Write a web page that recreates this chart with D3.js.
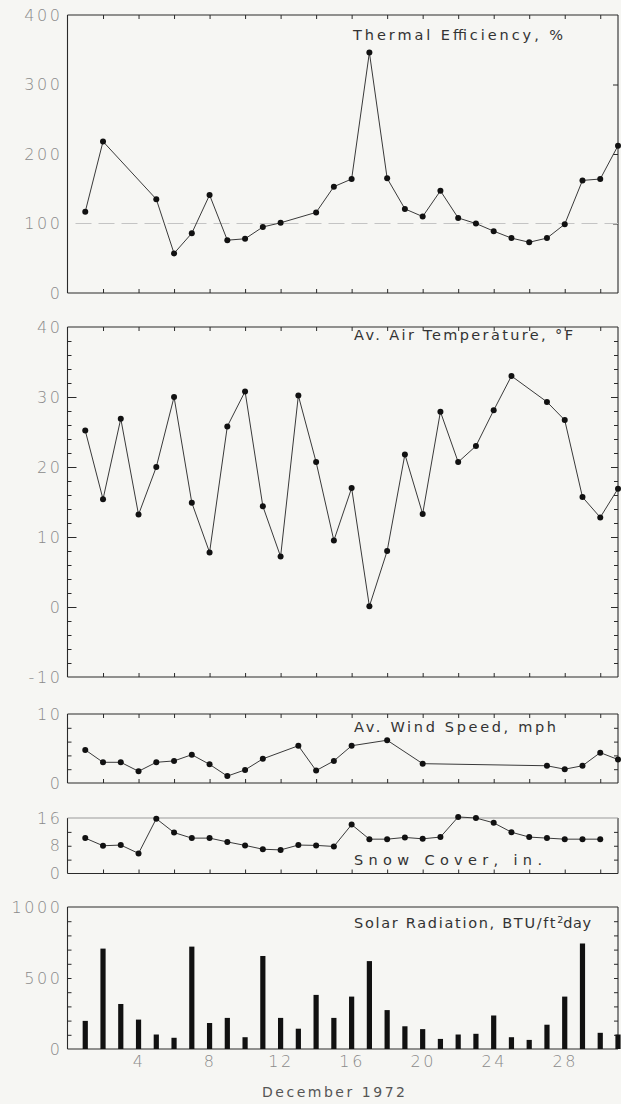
<!DOCTYPE html>
<html>
<head>
<meta charset="utf-8">
<script src="https://cdn.jsdelivr.net/npm/d3@7/dist/d3.min.js"></script>
<style>
html,body{margin:0;padding:0;background:#f6f6f3;}
svg{display:block;}
text{font-family:"DejaVu Sans", sans-serif;}
</style>
</head>
<body>
<svg id="chart" width="621" height="1104"></svg>
<script>
// ---- data ----
const effDays = [1,2,5,6,7,8,9,10,11,12,14,15,16,17,18,19,20,21,22,23,24,25,26,27,28,29,30,31];
const effVals = [117,218,135,57,86,141,76,78,95,101,116,153,164,346,165,121,110,147,108,100,89,79,73,79,99,162,164,212];

const tempDays = [1,2,3,4,5,6,7,8,9,10,11,12,13,14,15,16,17,18,19,20,21,22,23,24,25,27,28,29,30,31];
const tempVals = [25.2,15.4,26.9,13.2,20.0,30.0,14.9,7.8,25.8,30.8,14.4,7.2,30.2,20.7,9.5,17.0,0.1,8.0,21.8,13.3,27.9,20.7,23.0,28.1,33.0,29.3,26.7,15.7,12.8,16.9];

const windDays = [1,2,3,4,5,6,7,8,9,10,11,13,14,15,16,18,20,27,28,29,30,31];
const windVals = [4.8,3.0,3.0,1.7,3.0,3.2,4.1,2.7,1.0,1.9,3.5,5.4,1.8,3.2,5.4,6.2,2.8,2.5,2.0,2.5,4.4,3.4];

const snowDays = [1,2,3,4,5,6,7,8,9,10,11,12,13,14,15,16,17,18,19,20,21,22,23,24,25,26,27,28,29,30];
const snowVals = [10.2,8.0,8.2,5.8,15.8,11.8,10.2,10.2,9.1,8.1,7.0,6.8,8.2,8.1,7.8,14.1,9.9,9.9,10.4,10.0,10.5,16.3,16.0,14.6,11.9,10.5,10.2,9.9,9.9,9.9];

const solarDays = [1,2,3,4,5,6,7,8,9,10,11,12,13,14,15,16,17,18,19,20,21,22,23,24,25,26,27,28,29,30,31];
const solarVals = [198,707,317,207,102,79,721,183,219,83,655,219,143,381,219,369,619,274,160,140,71,102,107,236,83,64,171,369,743,114,102];

const effTicks = [0,100,200,300,400];
const tempTicks = [-10,0,10,20,30,40];
const windTicks = [0,10];
const snowTicks = [0,8,16];
const solarTicks = [0,500,1000];
const dayLabels = [4,8,12,16,20,24,28];
const evenDays = d3.range(2,31,2);

const titles = ["Thermal Efficiency, %","Av. Air Temperature, °F","Av. Wind Speed, mph","Snow Cover, in.","Solar Radiation, BTU/ft"];

// ---- layout ----
const svg = d3.select("#chart");
const X0 = 67.5, X1 = 618;
const x = d3.scaleLinear().domain([0,31]).range([X0,X1]);

const ink = "#2a2a2a", gray = "#8a8a8a";

function styleLabels(sel){
  sel.attr("font-size",16);
  sel.selectAll("text").attr("fill",gray).attr("font-size",16).style("font-size","16px")
    .style("font-family","'DejaVu Sans', sans-serif").style("font-weight","200").attr("letter-spacing","2.6");
}

function panel(cfg){
  const y = d3.scaleLinear().domain(cfg.domain).range(cfg.range);
  const g = svg.append("g");
  const yTop = cfg.range[1], yBot = cfg.range[0];
  g.append("line").attr("x1",X0).attr("x2",X0).attr("y1",yTop).attr("y2",yBot).attr("stroke",ink).attr("stroke-width",1.1);
  g.append("line").attr("x1",X1).attr("x2",X1).attr("y1",yTop).attr("y2",yBot).attr("stroke",ink).attr("stroke-width",1.1);
  g.append("line").attr("x1",X0).attr("x2",X1).attr("y1",yBot).attr("y2",yBot).attr("stroke",ink).attr("stroke-width",1.1);
  g.append("line").attr("x1",X0).attr("x2",X1).attr("y1",yTop).attr("y2",yTop)
    .attr("stroke",cfg.topGray?"#9a9a9a":ink).attr("stroke-width",cfg.topGray?1:1.1);

  const ax = d3.axisLeft(y).tickValues(cfg.labels).tickSize(0).tickPadding(5).tickFormat(d=>d<0?"-"+Math.abs(d):d);
  const la = g.append("g").attr("transform",`translate(${X0},0)`).call(ax);
  la.select(".domain").remove();
  styleLabels(la);

  function ticks(axisFn, vals, len, tx, ty){
    const a = axisFn.tickValues(vals).tickSize(len).tickFormat("");
    const t = g.append("g").attr("transform",`translate(${tx},${ty})`).call(a);
    t.select(".domain").remove(); t.selectAll("line").attr("stroke",ink);
  }
  if(cfg.yTicksL) ticks(d3.axisRight(y), cfg.yTicksL, cfg.yTickLen||4, X0, 0);
  if(cfg.yMajorL) ticks(d3.axisRight(y), cfg.yMajorL, 9, X0, 0);
  if(cfg.yTicksR) ticks(d3.axisLeft(y), cfg.yTicksR, cfg.yTickLen||4, X1, 0);
  if(cfg.yMajorR) ticks(d3.axisLeft(y), cfg.yMajorR, 7, X1, 0);
  if(cfg.xTop) ticks(d3.axisBottom(x), evenDays, 4, 0, yTop);
  if(cfg.xBot) ticks(d3.axisTop(x), evenDays, 4, 0, yBot);
  return {g,y};
}

function series(p, days, vals){
  const pts = days.map((d,i)=>[d,vals[i]]);
  p.g.append("path").datum(pts)
    .attr("d", d3.line().x(d=>x(d[0])).y(d=>p.y(d[1])))
    .attr("fill","none").attr("stroke","#3a3a3a").attr("stroke-width",1);
  p.g.selectAll("circle.pt").data(pts).join("circle")
    .attr("cx",d=>x(d[0])).attr("cy",d=>p.y(d[1])).attr("r",3).attr("fill","#111");
}

function title(p, txt, xx, yy, len){
  return p.g.append("text").attr("x",xx).attr("y",yy).text(txt)
    .attr("fill","#333").style("font-size","14.5px")
    .attr("textLength",len).attr("lengthAdjust","spacing");
}

// Panel 1: thermal efficiency
const p1 = panel({domain:[0,400], range:[293,15], labels:effTicks, yTicksR:[100,200,300], yTickLen:5, xTop:true, xBot:true});
p1.g.append("line").attr("x1",X0+8).attr("x2",X1).attr("y1",p1.y(100)).attr("y2",p1.y(100))
  .attr("stroke","#c4c4c4").attr("stroke-width",1).attr("stroke-dasharray","16,7");
series(p1, effDays, effVals);
title(p1, titles[0], 353, 40, 210);

// Panel 2: temperature
const tMinor = d3.range(-8,40,2);
const p2 = panel({domain:[-10,40], range:[677,327], labels:tempTicks, yTicksL:tMinor, yTicksR:tMinor, yMajorL:[0,10,20,30], yMajorR:[0,10,20,30], xTop:true, xBot:true});
series(p2, tempDays, tempVals);
title(p2, titles[1], 354, 340, 219);

// Panel 3: wind
const p3 = panel({domain:[0,10], range:[783,714], labels:windTicks, yTicksL:[2,4,6,8], yTicksR:[2,4,6,8], xTop:true, xBot:true});
series(p3, windDays, windVals);
title(p3, titles[2], 354, 732, 202);

// Panel 4: snow
const p4 = panel({domain:[0,16], range:[873.5,818], labels:snowTicks, yTicksL:[4,8,12], yTicksR:[4,8,12], xBot:true, topGray:true});
series(p4, snowDays, snowVals);
title(p4, titles[3], 354, 865, 188);

// Panel 5: solar
const p5 = panel({domain:[0,1000], range:[1049,907], labels:solarTicks, yTicksL:d3.range(100,1000,100), yTicksR:d3.range(100,1000,100)});
p5.g.selectAll("rect.bar").data(solarDays.map((d,i)=>[d,solarVals[i]])).join("rect")
  .attr("x",d=>x(d[0])-2.6).attr("width",5.2)
  .attr("y",d=>p5.y(d[1])).attr("height",d=>p5.y(0)-p5.y(d[1])).attr("fill","#111");
const st = p5.g.append("text").attr("x",354).attr("y",928).attr("fill","#333").style("font-size","14.5px")
  .attr("letter-spacing","1.7");
st.append("tspan").text(titles[4]);
st.append("tspan").text("2").attr("dy",-5).style("font-size","9.5px").attr("letter-spacing","0");
st.append("tspan").text("day").attr("dy",5).attr("letter-spacing","0.6");
// x labels
const xa = d3.axisBottom(x).tickValues(dayLabels).tickSize(0).tickPadding(7);
const xg = p5.g.append("g").attr("transform",`translate(0,1049)`).call(xa);
xg.select(".domain").remove();
styleLabels(xg);
svg.append("text").attr("x",262).attr("y",1097)
  .text("December 1972").attr("fill","#555").style("font-size","14px")
  .attr("textLength",143).attr("lengthAdjust","spacing");
</script>
</body>
</html>
